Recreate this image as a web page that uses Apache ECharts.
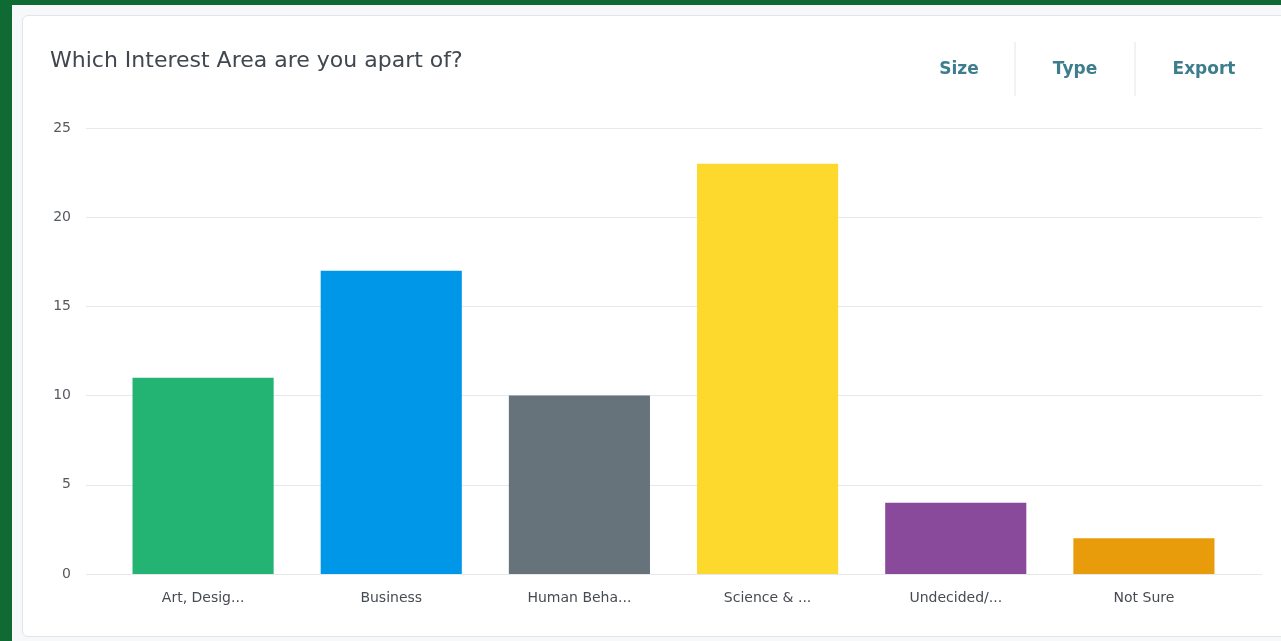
<!DOCTYPE html>
<html>
<head>
<meta charset="utf-8">
<script src="https://cdn.jsdelivr.net/npm/echarts@6/dist/echarts.min.js"></script>
<style>
html,body{margin:0;padding:0;width:1281px;height:641px;overflow:hidden;background:#0f6a34;}
#inner{position:absolute;left:12px;top:5px;right:0;bottom:0;background:#f7f8f9;}
#card{position:absolute;left:22px;top:15px;width:1300px;height:620px;background:#fff;border:1px solid #e2e5e8;border-radius:6px;}
#chart{position:absolute;left:0;top:0;width:1281px;height:641px;}
</style>
</head>
<body>
<div id="inner"></div>
<div id="card"></div>
<div id="chart"></div>
<script>
const titleText = "Which Interest Area are you apart of?";
const categories = ["Art, Desig...", "Business", "Human Beha...", "Science & ...", "Undecided/...", "Not Sure"];
const values = [11, 17, 10, 23, 4, 2];
const barColors = ["#23b373", "#0097e8", "#67737b", "#fdd92e", "#8a4a9b", "#e99c0b"];
const yTicks = { min: 0, max: 25, interval: 5 };
const buttons = ["Size", "Type", "Export"];

const font = "'DejaVu Sans', sans-serif";
const chart = echarts.init(document.getElementById('chart'), null, {renderer: 'canvas'});
const btnX = [959, 1075, 1204];
chart.setOption({
  backgroundColor: 'transparent',
  animation: false,
  title: {
    text: titleText, left: 45, top: 45,
    textStyle: {fontFamily: font, fontSize: 22, fontWeight: 'normal', color: '#41474f'}
  },
  graphic: [
    ...buttons.map((b, i) => ({
      type: 'text', silent: true,
      style: {text: b, fontFamily: font, fontSize: 17, fontWeight: 'bold', fill: '#3d7d8e', align: 'center', verticalAlign: 'middle'},
      x: btnX[i], y: 70
    })),
    {type: 'line', shape: {x1: 1015, y1: 42, x2: 1015, y2: 96}, style: {stroke: '#e4e6e8', lineWidth: 1}},
    {type: 'line', shape: {x1: 1135, y1: 42, x2: 1135, y2: 96}, style: {stroke: '#e4e6e8', lineWidth: 1}}
  ],
  grid: [
    {left: 86, right: 19, top: 128, bottom: 67},
    {left: 109, right: 43, top: 128, bottom: 67}
  ],
  xAxis: [
    {type: 'category', gridIndex: 0, data: categories, show: false},
    {type: 'category', gridIndex: 1, data: categories,
      axisLine: {show: false}, axisTick: {show: false},
      axisLabel: {fontFamily: font, fontSize: 14, color: '#474b52', margin: 17, interval: 0}}
  ],
  yAxis: [
    {type: 'value', gridIndex: 0, min: yTicks.min, max: yTicks.max, interval: yTicks.interval,
      axisLine: {show: false}, axisTick: {show: false},
      axisLabel: {fontFamily: font, fontSize: 14, color: '#555a60', margin: 15},
      splitLine: {lineStyle: {color: '#e6e8eb', width: 1}}},
    {type: 'value', gridIndex: 1, min: yTicks.min, max: yTicks.max, interval: yTicks.interval, show: false}
  ],
  series: [{
    type: 'bar', xAxisIndex: 1, yAxisIndex: 1,
    data: values.map((v, i) => ({value: v, itemStyle: {color: barColors[i]}})),
    barWidth: '75%'
  }, {
    type: 'line', xAxisIndex: 0, yAxisIndex: 0, data: [], silent: true
  }]
});
</script>
</body>
</html>
